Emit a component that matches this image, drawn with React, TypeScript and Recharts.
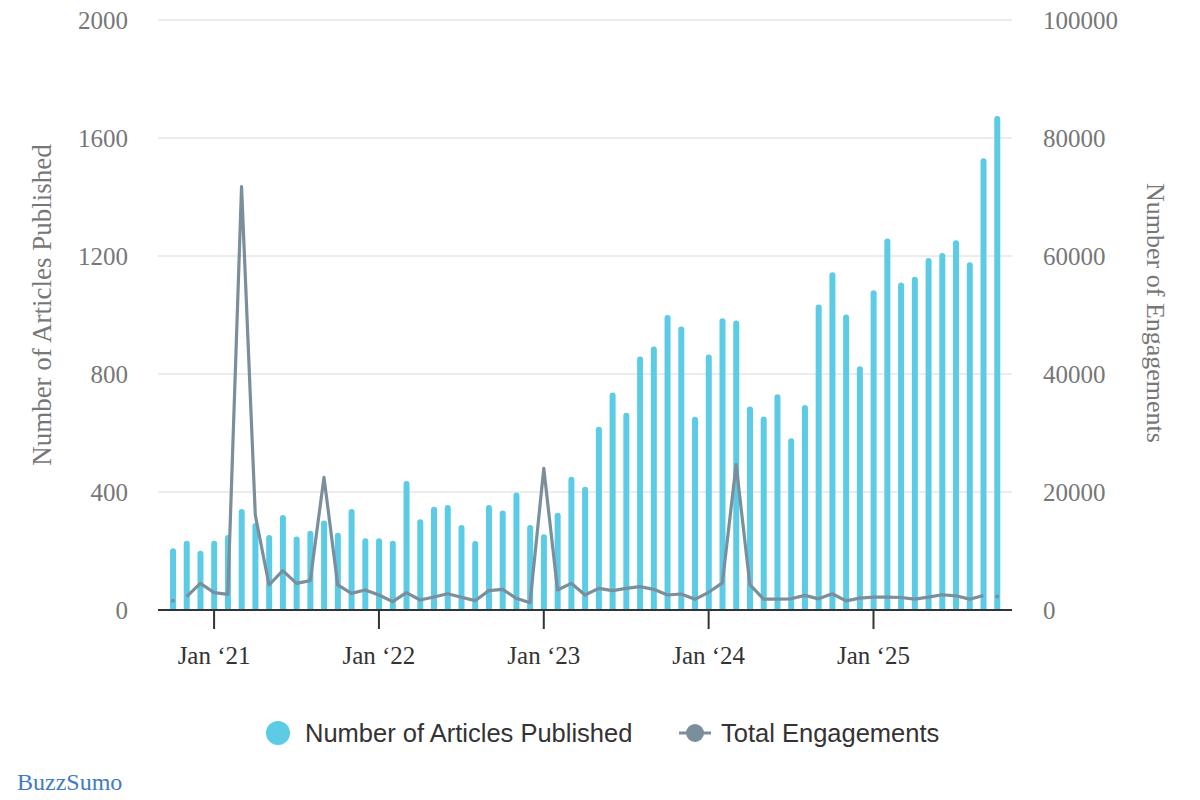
import { ComposedChart, Bar, Line, XAxis, YAxis, CartesianGrid } from 'recharts'

// monthly buckets, Oct 2020 .. Oct 2025
const months = [
  '2020-10', '2020-11', '2020-12',
  '2021-01', '2021-02', '2021-03', '2021-04', '2021-05', '2021-06', '2021-07', '2021-08', '2021-09', '2021-10', '2021-11', '2021-12',
  '2022-01', '2022-02', '2022-03', '2022-04', '2022-05', '2022-06', '2022-07', '2022-08', '2022-09', '2022-10', '2022-11', '2022-12',
  '2023-01', '2023-02', '2023-03', '2023-04', '2023-05', '2023-06', '2023-07', '2023-08', '2023-09', '2023-10', '2023-11', '2023-12',
  '2024-01', '2024-02', '2024-03', '2024-04', '2024-05', '2024-06', '2024-07', '2024-08', '2024-09', '2024-10', '2024-11', '2024-12',
  '2025-01', '2025-02', '2025-03', '2025-04', '2025-05', '2025-06', '2025-07', '2025-08', '2025-09', '2025-10',
]

const articles = [
  209, 235, 201,
  235, 254, 342, 295, 254, 322, 249, 269, 303, 262, 342, 243,
  243, 235, 437, 308, 350, 356, 288, 234, 356, 337, 398, 288,
  257, 330, 452, 418, 621, 737, 669, 859, 893, 1000, 961, 655,
  866, 989, 981, 690, 656, 731, 582, 695, 1036, 1145, 1002, 826,
  1084, 1259, 1110, 1130, 1193, 1210, 1253, 1179, 1531, 1675,
]

const engagements = [
  1580, 2260, 4520,
  2940, 2660, 71750, 16100, 4240, 6670, 4520, 4970, 22480, 4240, 2820, 3390,
  2540, 1410, 2940, 1690, 2200, 2750, 2150, 1580, 3280, 3500, 1980, 1240,
  24000, 3390, 4520, 2540, 3670, 3280, 3670, 3950, 3500, 2540, 2710, 1810,
  3000, 4590, 24660, 4300, 1835, 1835, 1900, 2470, 1890, 2750, 1550, 2010,
  2180, 2180, 2120, 1835, 2180, 2580, 2410, 1835, 2470, 2290,
]

const leftTicks = [0, 400, 800, 1200, 1600, 2000]
const rightTicks = [0, 20000, 40000, 60000, 80000, 100000]

const BAR = '#5BCBE6'
const LINE = '#7A8E9B'

// first and last engagement points are drawn as lone dots, not joined to the line
const data = months.map((month, i) => {
  const edge = i === 0 || i === months.length - 1
  return {
    month,
    articles: articles[i],
    engagements: edge ? null : engagements[i],
    engagementDot: edge ? engagements[i] : null,
  }
})

function MonthTick(props: any) {
  const { x, y, payload } = props
  const [yr, mo] = String(payload.value).split('-')
  if (mo !== '01') return <g />
  return (
    <g>
      <line x1={x} x2={x} y1={y} y2={y + 19} stroke="#333" strokeWidth={2} />
      <text
        x={x}
        y={y + 54}
        textAnchor="middle"
        fontFamily="'Liberation Serif', serif"
        fontSize={25}
        fill="#333"
      >
        {`Jan \u2018${yr.slice(2)}`}
      </text>
    </g>
  )
}

const axisTick = { fontFamily: "'Liberation Serif', serif", fontSize: 25, fill: '#777' }

export default function App() {
  return (
    <div style={{ position: 'absolute', left: 0, top: 0, width: 1200, height: 800, background: '#fff' }}>
      <ComposedChart width={1200} height={800} data={data} margin={{ top: 20, right: 0, bottom: 130, left: 0 }}>
        <CartesianGrid yAxisId="left" vertical={false} stroke="#e6e6e6" strokeWidth={1.5} />
        <XAxis
          dataKey="month"
          height={60}
          interval={0}
          padding={{ left: 8, right: 8 }}
          axisLine={{ stroke: '#333', strokeWidth: 2 }}
          tickLine={false}
          tickSize={0}
          tickMargin={0}
          tick={<MonthTick />}
        />
        <YAxis
          yAxisId="left"
          width={158}
          domain={[0, 2000]}
          ticks={leftTicks}
          axisLine={false}
          tickLine={false}
          tickSize={0}
          tickMargin={30}
          tick={axisTick}
          label={{
            content: ({ viewBox }: any) => {
              const cx = viewBox.x + 42
              const cy = viewBox.y + viewBox.height / 2 - 10
              return (
                <text
                  x={cx}
                  y={cy}
                  transform={`rotate(-90 ${cx} ${cy})`}
                  textAnchor="middle"
                  dominantBaseline="central"
                  fontFamily="'Liberation Serif', serif"
                  fontSize={27}
                  fill="#777"
                >
                  Number of Articles Published
                </text>
              )
            },
          }}
        />
        <YAxis
          yAxisId="right"
          orientation="right"
          width={188}
          domain={[0, 100000]}
          ticks={rightTicks}
          axisLine={false}
          tickLine={false}
          tickSize={0}
          tickMargin={31}
          tick={axisTick}
          label={{
            content: ({ viewBox }: any) => {
              const cx = viewBox.x + 143
              const cy = viewBox.y + viewBox.height / 2 - 2
              return (
                <text
                  x={cx}
                  y={cy}
                  transform={`rotate(90 ${cx} ${cy})`}
                  textAnchor="middle"
                  dominantBaseline="central"
                  fontFamily="'Liberation Serif', serif"
                  fontSize={26}
                  fill="#777"
                >
                  Number of Engagements
                </text>
              )
            },
          }}
        />
        <Bar
          yAxisId="left"
          dataKey="articles"
          fill={BAR}
          barSize={6}
          radius={[3, 3, 0, 0]}
          isAnimationActive={false}
        />
        <Line
          yAxisId="right"
          type="linear"
          dataKey="engagements"
          stroke={LINE}
          strokeWidth={3.2}
          strokeLinejoin="round"
          dot={false}
          activeDot={false}
          isAnimationActive={false}
        />
        <Line
          yAxisId="right"
          type="linear"
          dataKey="engagementDot"
          stroke="none"
          dot={{ r: 2, fill: LINE, stroke: 'none' }}
          activeDot={false}
          isAnimationActive={false}
        />
      </ComposedChart>

      <svg width={1200} height={100} style={{ position: 'absolute', left: 0, top: 700 }}>
        <circle cx={278} cy={33} r={12} fill={BAR} />
        <text x={305} y={33} dominantBaseline="central" fontFamily="'Liberation Sans', Arial, sans-serif" fontSize={25.5} fill="#333">
          Number of Articles Published
        </text>
        <line x1={679} x2={711} y1={33} y2={33} stroke={LINE} strokeWidth={3} />
        <circle cx={695} cy={33} r={9} fill={LINE} />
        <text x={721} y={33} dominantBaseline="central" fontFamily="'Liberation Sans', Arial, sans-serif" fontSize={25.5} fill="#333">
          Total Engagements
        </text>
        <text x={17} y={90} fontFamily="'Liberation Serif', serif" fontSize={24} fill="#3F7BC4">
          BuzzSumo
        </text>
      </svg>
    </div>
  )
}
